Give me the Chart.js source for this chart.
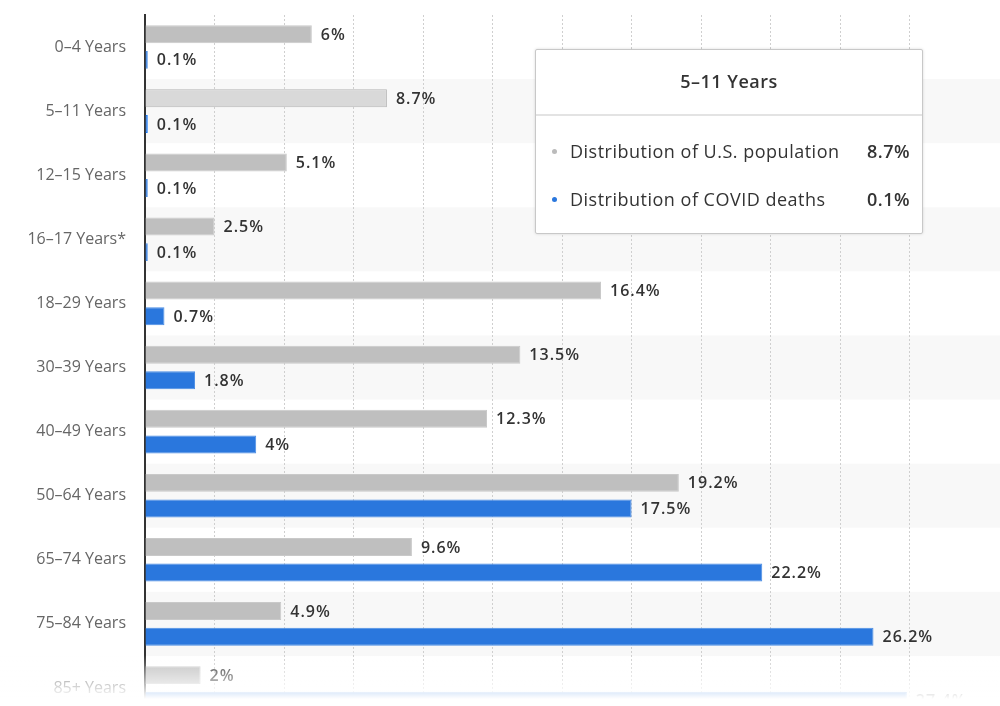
<!DOCTYPE html>
<html lang="en">
<head>
    <meta charset="UTF-8">
    <title>COVID deaths vs U.S. population by age</title>
    <script src="https://cdn.jsdelivr.net/npm/chart.js"></script>
    <style>
        body {
            margin: 0;
            background: #fff;
            overflow: hidden;
            font-family: "Open Sans", sans-serif;
        }

        .chart-box {
            position: relative;
            width: 1000px;
            height: 720px;
        }

        #tip {
            position: absolute;
            left: 535px;
            top: 49px;
            width: 386px;
            background: #fff;
            border: 1px solid #c8c8c8;
            border-radius: 2px;
            box-shadow: 0 0 3px rgba(0, 0, 0, 0.15);
            color: #333;
            font-size: 18px;
            letter-spacing: 0.5px;
            display: none;
        }

        #tip .title {
            text-align: center;
            font-weight: 600;
            height: 64px;
            line-height: 62px;
            border-bottom: 2px solid #e3e3e3;
        }

        #tip .rows {
            padding: 11px 12px 10px 16px;
        }

        #tip .row {
            display: flex;
            align-items: center;
            height: 48px;
        }

        #tip .dot {
            width: 5px;
            height: 5px;
            border-radius: 50%;
            margin-right: 13px;
        }

        #tip .lbl {
            flex: 1;
        }

        #tip .val {
            font-weight: 600;
        }
    </style>
</head>
<body>

<div class="chart-box">
    <canvas id="ageChart" width="1000" height="720"></canvas>
    <div id="tip"></div>
</div>

<script>
    const ageGroups = ['0–4 Years', '5–11 Years', '12–15 Years', '16–17 Years*', '18–29 Years',
        '30–39 Years', '40–49 Years', '50–64 Years', '65–74 Years', '75–84 Years', '85+ Years'];
    const populationShare = [6, 8.7, 5.1, 2.5, 16.4, 13.5, 12.3, 19.2, 9.6, 4.9, 2];
    const deathShare = [0.1, 0.1, 0.1, 0.1, 0.7, 1.8, 4, 17.5, 22.2, 26.2, 27.4];
    const seriesNames = ['Distribution of U.S. population', 'Distribution of COVID deaths'];
    const hoveredIndex = 1;

    const grey = '#bfbfbf';
    const blue = '#2a77dd';

    // light bands behind every second category, value labels, fade at the bottom
    const bandsPlugin = {
        id: 'bands',
        beforeDraw(chart) {
            const { ctx, chartArea, scales } = chart;
            const y = scales.y;
            const step = y.getPixelForValue(1) - y.getPixelForValue(0);
            ctx.save();
            ctx.fillStyle = '#f8f8f8';
            ageGroups.forEach((g, i) => {
                if (i % 2 === 1) {
                    const c = y.getPixelForValue(i);
                    ctx.fillRect(chartArea.left, c - step / 2, chart.width - chartArea.left, step);
                }
            });
            ctx.restore();
        },
        afterDatasetsDraw(chart) {
            const ctx = chart.ctx;
            ctx.save();
            ctx.font = '600 16px "Open Sans"';
            ctx.letterSpacing = '1px';
            ctx.fillStyle = '#333';
            ctx.textBaseline = 'middle';
            chart.data.datasets.forEach((ds, di) => {
                chart.getDatasetMeta(di).data.forEach((bar, i) => {
                    ctx.fillText(ds.data[i] + '%', bar.x + 9, bar.y + 1);
                });
            });
            ctx.restore();
        },
        afterDraw(chart) {
            const ctx = chart.ctx;
            const g = ctx.createLinearGradient(0, 655, 0, 699);
            g.addColorStop(0, 'rgba(255,255,255,0)');
            g.addColorStop(1, 'rgba(255,255,255,1)');
            ctx.save();
            ctx.fillStyle = g;
            ctx.fillRect(0, 655, chart.width, chart.height - 655);
            ctx.restore();
        }
    };

    function externalTip(context) {
        const tip = document.getElementById('tip');
        const model = context.tooltip;
        if (model.opacity === 0 || !model.dataPoints || !model.dataPoints.length) {
            tip.style.display = 'none';
            return;
        }
        let html = '<div class="title">' + model.title[0] + '</div><div class="rows">';
        model.dataPoints.forEach(p => {
            const col = p.datasetIndex === 0 ? '#bbb' : blue;
            html += '<div class="row"><span class="dot" style="background:' + col + '"></span>' +
                '<span class="lbl">' + p.dataset.label + '</span>' +
                '<span class="val">' + p.raw + '%</span></div>';
        });
        html += '</div>';
        tip.innerHTML = html;
        tip.style.display = 'block';
    }

    const ctx = document.getElementById('ageChart').getContext('2d');
    const ageChart = new Chart(ctx, {
        type: 'bar',
        data: {
            labels: ageGroups,
            datasets: [{
                label: seriesNames[0],
                data: populationShare,
                backgroundColor: grey,
                hoverBackgroundColor: '#d9d9d9',
                borderColor: '#c9c9c9',
                borderWidth: 1,
                categoryPercentage: 0.8,
                barPercentage: 0.7
            }, {
                label: seriesNames[1],
                data: deathShare,
                backgroundColor: blue,
                hoverBackgroundColor: blue,
                borderColor: '#4a8ce4',
                borderWidth: 1,
                categoryPercentage: 0.8,
                barPercentage: 0.7
            }]
        },
        plugins: [bandsPlugin],
        options: {
            indexAxis: 'y',
            responsive: false,
            animation: false,
            layout: { padding: { top: 15, left: 0, right: 0, bottom: 0 } },
            interaction: { mode: 'index', axis: 'y', intersect: false },
            plugins: {
                legend: { display: false },
                tooltip: { enabled: false, external: externalTip }
            },
            scales: {
                x: {
                    min: 0,
                    max: 30.75,
                    afterBuildTicks(scale) {
                        scale.ticks = scale.ticks.filter(t => Math.abs(t.value / 2.5 - Math.round(t.value / 2.5)) < 1e-6);
                    },
                    afterFit(scale) {
                        scale.height = 0;
                        scale.paddingLeft = 0;
                        scale.paddingRight = 0;
                    },
                    ticks: { display: false, stepSize: 2.5 },
                    grid: { color: '#cfcfcf', drawTicks: false },
                    border: { display: false, dash: [2, 2] }
                },
                y: {
                    afterFit(scale) {
                        scale.width = 145;
                        scale.paddingTop = 0;
                        scale.paddingBottom = 0;
                    },
                    ticks: {
                        color: '#666',
                        padding: 19,
                        font: { family: '"Open Sans"', size: 16 }
                    },
                    grid: { display: false, drawTicks: false },
                    border: { display: true, color: '#333', width: 2 }
                }
            }
        }
    });

    const active = [{ datasetIndex: 0, index: hoveredIndex }, { datasetIndex: 1, index: hoveredIndex }];
    ageChart.setActiveElements(active);
    ageChart.tooltip.setActiveElements(active, { x: 600, y: 111 });
    ageChart.update();
</script>

</body>
</html>
